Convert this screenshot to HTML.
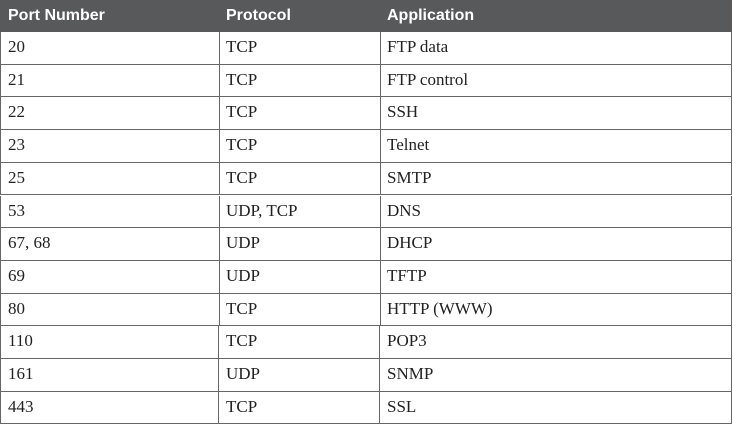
<!DOCTYPE html>
<html><head><style>
html,body{margin:0;padding:0;background:#fff;width:733px;height:426px;overflow:hidden;position:relative}
.h{position:absolute;top:0;left:0;width:732px;height:32px;background:#58595b}
.h span{position:absolute;top:7px;color:#fff;font:bold 16px "Liberation Sans",sans-serif}
.r{position:absolute;left:0;width:730px;height:31.7px;border:1px solid #666;border-top:none}
.r span{position:absolute;top:5px;font:17px "Liberation Serif",serif;color:#222}
.r i{position:absolute;top:0;bottom:0;width:1px;background:#666}
.a{left:7px}.b{left:225px}.c{left:386px}
</style></head><body>
<div class="h"><span style="left:8px">Port Number</span><span style="left:226px">Protocol</span><span style="left:387px">Application</span></div>
<div class="r" style="top:32px"><i style="left:218px"></i><i style="left:379px"></i><span class="a">20</span><span class="b">TCP</span><span class="c">FTP data</span></div>
<div class="r" style="top:64.7px"><i style="left:218px"></i><i style="left:379px"></i><span class="a">21</span><span class="b">TCP</span><span class="c">FTP control</span></div>
<div class="r" style="top:97.4px"><i style="left:218px"></i><i style="left:379px"></i><span class="a">22</span><span class="b">TCP</span><span class="c">SSH</span></div>
<div class="r" style="top:130.1px"><i style="left:218px"></i><i style="left:379px"></i><span class="a">23</span><span class="b">TCP</span><span class="c">Telnet</span></div>
<div class="r" style="top:162.8px"><i style="left:218px"></i><i style="left:379px"></i><span class="a">25</span><span class="b">TCP</span><span class="c">SMTP</span></div>
<div class="r" style="top:195.5px"><i style="left:218px"></i><i style="left:379px"></i><span class="a">53</span><span class="b">UDP, TCP</span><span class="c">DNS</span></div>
<div class="r" style="top:228.2px"><i style="left:218px"></i><i style="left:379px"></i><span class="a">67, 68</span><span class="b">UDP</span><span class="c">DHCP</span></div>
<div class="r" style="top:260.9px"><i style="left:218px"></i><i style="left:379px"></i><span class="a">69</span><span class="b">UDP</span><span class="c">TFTP</span></div>
<div class="r" style="top:293.6px"><i style="left:218px"></i><i style="left:379px"></i><span class="a">80</span><span class="b">TCP</span><span class="c">HTTP (WWW)</span></div>
<div class="r" style="top:326.3px"><i style="left:217px"></i><i style="left:378px"></i><span class="a">110</span><span class="b">TCP</span><span class="c">POP3</span></div>
<div class="r" style="top:359px"><i style="left:217px"></i><i style="left:378px"></i><span class="a">161</span><span class="b">UDP</span><span class="c">SNMP</span></div>
<div class="r" style="top:391.7px"><i style="left:217px"></i><i style="left:378px"></i><span class="a">443</span><span class="b">TCP</span><span class="c">SSL</span></div>
</body></html>
